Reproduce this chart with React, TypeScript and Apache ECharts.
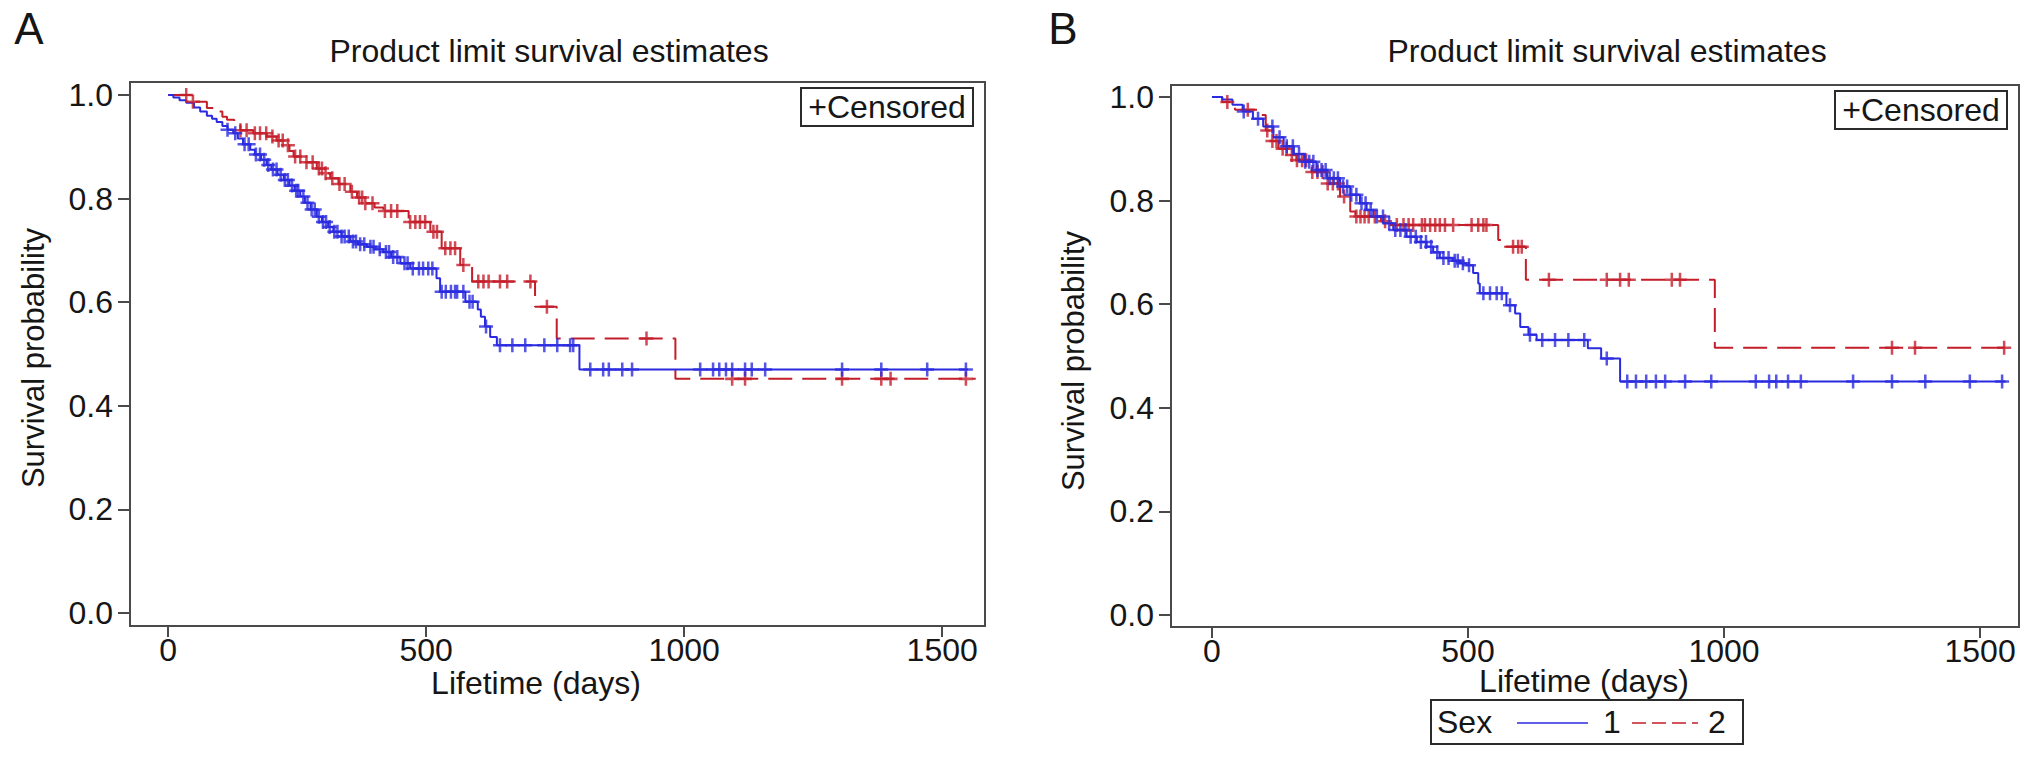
import React, { useEffect, useRef } from "react";
import * as echarts from "echarts";

const FONT = '"Liberation Sans", Arial, Helvetica, sans-serif';
const BLUE = "#2a2ae0";
const RED = "#c41e2a";
const INK = "#161616";
const FRAME = "#4a4a4a";

// ---------- axis ticks ----------
const xTicks = [0, 500, 1000, 1500];
const yTicks = [0, 0.2, 0.4, 0.6, 0.8, 1.0];

// ---------- Panel A (event times: [day, survival]) ----------
const aBlueSteps: [number, number][] = [
  [0, 1.0], [10, 0.995], [22, 0.99], [35, 0.985], [50, 0.976], [62, 0.968], [75, 0.96], [85, 0.954],
  [94, 0.948], [105, 0.94], [115, 0.933], [126, 0.926], [135, 0.916], [145, 0.905], [159, 0.894],
  [168, 0.885], [180, 0.875], [191, 0.865], [200, 0.856], [212, 0.846], [224, 0.836], [235, 0.825],
  [245, 0.815], [256, 0.804], [265, 0.792], [276, 0.779], [288, 0.765], [298, 0.755], [310, 0.745],
  [320, 0.736], [336, 0.727], [353, 0.717], [368, 0.712], [385, 0.707], [400, 0.702], [417, 0.697],
  [432, 0.687], [450, 0.675], [469, 0.665], [520, 0.646], [527, 0.62], [576, 0.601], [600, 0.586],
  [606, 0.572], [614, 0.553], [624, 0.533], [637, 0.517], [797, 0.47],
];
const aBlueEnd = 1550;
const aBlueCensored = [
  115, 130, 148, 156, 170, 178, 186, 194, 203, 210, 218, 226, 232, 240, 248, 252, 262, 270, 278, 284,
  292, 300, 306, 313, 322, 328, 336, 342, 350, 358, 364, 372, 380, 392, 398, 410, 422, 428, 436, 444,
  458, 464, 474, 486, 494, 504, 512, 530, 538, 548, 556, 560, 572, 584, 590, 616, 643, 667, 692, 729,
  754, 779, 785, 818, 843, 854, 880, 899, 1031, 1056, 1068, 1081, 1093, 1118, 1131, 1157, 1306, 1382,
  1471, 1546,
];
const aRedSteps: [number, number][] = [
  [0, 1.0], [45, 0.987], [75, 0.975], [94, 0.968], [105, 0.958], [114, 0.952], [128, 0.942],
  [140, 0.932], [165, 0.926], [191, 0.92], [210, 0.912], [224, 0.903], [235, 0.892], [243, 0.881],
  [265, 0.87], [288, 0.858], [300, 0.849], [314, 0.839], [330, 0.828], [353, 0.813], [366, 0.802],
  [379, 0.791], [400, 0.783], [417, 0.776], [466, 0.755], [508, 0.736], [530, 0.704], [566, 0.672],
  [589, 0.64], [711, 0.591], [753, 0.53], [983, 0.452],
];
const aRedEnd = 1565;
const aRedCensored = [
  35, 48, 140, 152, 168, 178, 190, 202, 214, 222, 232, 246, 256, 268, 280, 292, 298, 305, 318, 332,
  342, 356, 370, 376, 382, 396, 420, 432, 444, 469, 479, 488, 498, 514, 521, 537, 547, 556, 572, 601,
  611, 621, 643, 657, 702, 734, 927, 1093, 1118, 1306, 1382, 1400, 1546,
];

// ---------- Panel B (Sex 1 = blue, Sex 2 = red) ----------
const bBlueSteps: [number, number][] = [
  [0, 1.0], [20, 0.995], [40, 0.985], [60, 0.972], [80, 0.958], [100, 0.943], [120, 0.922],
  [140, 0.905], [160, 0.89], [180, 0.875], [204, 0.859], [225, 0.843], [250, 0.827], [270, 0.811],
  [289, 0.795], [302, 0.782], [315, 0.769], [335, 0.756], [354, 0.743], [380, 0.73], [400, 0.72],
  [419, 0.711], [432, 0.7], [445, 0.689], [470, 0.684], [484, 0.679], [497, 0.675], [510, 0.66],
  [520, 0.64], [523, 0.621], [575, 0.598], [592, 0.582], [602, 0.556], [618, 0.541], [634, 0.531],
  [734, 0.515], [760, 0.495], [797, 0.451],
];
const bBlueEnd = 1550;
const bBlueCensored = [
  62, 90, 118, 132, 146, 158, 170, 182, 190, 198, 206, 214, 222, 230, 238, 246, 256, 264, 272, 282,
  292, 300, 310, 322, 334, 346, 358, 368, 378, 388, 398, 408, 418, 428, 440, 452, 462, 474, 480, 490,
  502, 530, 543, 556, 566, 582, 621, 645, 670, 696, 727, 771, 811, 828, 848, 867, 885, 924, 975, 1062,
  1088, 1102, 1125, 1150, 1252, 1328, 1393, 1480, 1543,
];
const bRedSteps: [number, number][] = [
  [0, 1.0], [20, 0.99], [45, 0.975], [95, 0.965], [105, 0.935], [115, 0.915], [130, 0.9],
  [150, 0.888], [165, 0.878], [195, 0.855], [224, 0.833], [250, 0.808], [270, 0.779], [280, 0.769],
  [330, 0.76], [348, 0.753], [559, 0.724], [566, 0.711], [613, 0.647], [982, 0.516],
];
const bRedEnd = 1562;
const bRedCensored = [
  30, 70, 108, 118, 126, 138, 146, 156, 166, 176, 184, 196, 206, 216, 226, 236, 246, 258, 282, 290,
  298, 306, 318, 338, 361, 374, 384, 393, 410, 416, 426, 436, 445, 455, 471, 507, 520, 530, 536, 588,
  598, 605, 658, 771, 797, 814, 898, 914, 1328, 1373, 1547,
];

// ---------- helpers ----------
const CROSS = "path://M4.1,0H5.9V4.1H10V5.9H5.9V10H4.1V5.9H0V4.1H4.1Z";

const survAt = (steps: [number, number][], t: number) => {
  let s = steps[0][1];
  for (const [d, v] of steps) {
    if (d <= t) s = v;
    else break;
  }
  return s;
};

const stepLine = (steps: [number, number][], end: number) => [
  ...steps,
  [end, steps[steps.length - 1][1]],
];

const censorPts = (steps: [number, number][], days: number[]) =>
  days.map((d) => [d, survAt(steps, d)]);

function makeXAxis(gridIndex: number, min: number, max: number) {
  return {
    gridIndex,
    type: "value",
    position: "bottom",
    min,
    max,
    axisLine: { show: false, onZero: false },
    axisTick: {
      show: true,
      length: 11,
      customValues: xTicks,
      lineStyle: { color: FRAME, width: 2 },
    },
    axisLabel: {
      customValues: xTicks,
      margin: 8,
      fontSize: 32,
      fontFamily: FONT,
      color: INK,
      formatter: (v: number) => String(v),
    },
    splitLine: { show: false },
  };
}

function makeYAxis(gridIndex: number, min: number, max: number) {
  return {
    gridIndex,
    type: "value",
    position: "left",
    min,
    max,
    axisLine: { show: false, onZero: false },
    axisTick: {
      show: true,
      length: 12,
      customValues: yTicks,
      lineStyle: { color: FRAME, width: 2 },
    },
    axisLabel: {
      customValues: yTicks,
      margin: 17,
      fontSize: 32,
      fontFamily: FONT,
      color: INK,
      formatter: (v: number) => v.toFixed(1),
    },
    splitLine: { show: false },
  };
}

function stepSeries(idx: number, steps: [number, number][], end: number, color: string, dashed: boolean) {
  return {
    type: "line",
    xAxisIndex: idx,
    yAxisIndex: idx,
    step: "end",
    showSymbol: false,
    data: stepLine(steps, end),
    lineStyle: { color, width: 2, type: dashed ? [24, 10] : "solid" },
    z: 3,
  };
}

function censorSeries(idx: number, steps: [number, number][], days: number[], color: string) {
  return {
    type: "scatter",
    xAxisIndex: idx,
    yAxisIndex: idx,
    symbol: CROSS,
    symbolSize: 14,
    data: censorPts(steps, days),
    itemStyle: { color },
    z: 4,
  };
}

const txt = (text: string, x: number, y: number, size = 32, extra: any = {}) => ({
  type: "text",
  x,
  y,
  ...extra,
  style: {
    text,
    x: 0,
    y: 0,
    fontSize: size,
    fontFamily: FONT,
    fill: INK,
    align: extra.align || "center",
    verticalAlign: "middle",
  },
});

export default function App() {
  const ref = useRef<HTMLDivElement>(null);

  useEffect(() => {
    if (!ref.current) return;
    const chart = echarts.init(ref.current, undefined, { renderer: "svg" });

    const option: any = {
      animation: false,
      backgroundColor: "#ffffff",
      grid: [
        { left: 130, top: 82, width: 855, height: 544, show: true, borderColor: FRAME, borderWidth: 2, backgroundColor: "transparent" },
        { left: 1171, top: 85, width: 848, height: 542, show: true, borderColor: FRAME, borderWidth: 2, backgroundColor: "transparent" },
      ],
      xAxis: [makeXAxis(0, -74, 1583), makeXAxis(1, -80, 1576)],
      yAxis: [makeYAxis(0, -0.025, 1.025), makeYAxis(1, -0.023, 1.023)],
      series: [
        stepSeries(0, aRedSteps, aRedEnd, RED, true),
        stepSeries(0, aBlueSteps, aBlueEnd, BLUE, false),
        censorSeries(0, aRedSteps, aRedCensored, RED),
        censorSeries(0, aBlueSteps, aBlueCensored, BLUE),
        stepSeries(1, bRedSteps, bRedEnd, RED, true),
        stepSeries(1, bBlueSteps, bBlueEnd, BLUE, false),
        censorSeries(1, bRedSteps, bRedCensored, RED),
        censorSeries(1, bBlueSteps, bBlueCensored, BLUE),
      ],
      graphic: [
        txt("A", 29, 28, 44),
        txt("B", 1063, 28, 44),
        txt("Product limit survival estimates", 549, 51),
        txt("Product limit survival estimates", 1607, 51),
        txt("Survival probability", 33, 358, 31, { rotation: Math.PI / 2 }),
        txt("Survival probability", 1073, 361, 31, { rotation: Math.PI / 2 }),
        txt("Lifetime (days)", 536, 683),
        txt("Lifetime (days)", 1584, 681),
        {
          type: "rect",
          shape: { x: 801, y: 88, width: 172, height: 38 },
          style: { fill: "#ffffff", stroke: "#2b2b2b", lineWidth: 2 },
          z: 10,
        },
        { ...txt("+Censored", 887, 107), z: 11 },
        {
          type: "rect",
          shape: { x: 1835, y: 91, width: 172, height: 38 },
          style: { fill: "#ffffff", stroke: "#2b2b2b", lineWidth: 2 },
          z: 10,
        },
        { ...txt("+Censored", 1921, 110), z: 11 },
        {
          type: "rect",
          shape: { x: 1431, y: 700, width: 312, height: 44 },
          style: { fill: "#ffffff", stroke: "#2b2b2b", lineWidth: 2 },
          z: 10,
        },
        { ...txt("Sex", 1437, 722, 32, { align: "left" }), z: 11 },
        {
          type: "line",
          shape: { x1: 1517, y1: 723, x2: 1588, y2: 723 },
          style: { stroke: BLUE, lineWidth: 1.5 },
          z: 11,
        },
        { ...txt("1", 1612, 722), z: 11 },
        {
          type: "line",
          shape: { x1: 1632, y1: 723, x2: 1698, y2: 723 },
          style: { stroke: RED, lineWidth: 1.5, lineDash: [14, 6] },
          z: 11,
        },
        { ...txt("2", 1717, 722), z: 11 },
      ],
    };

    chart.setOption(option);
    return () => chart.dispose();
  }, []);

  return (
    <div
      ref={ref}
      style={{ position: "fixed", left: 0, top: 0, width: 2032, height: 780, background: "#fff" }}
    />
  );
}
